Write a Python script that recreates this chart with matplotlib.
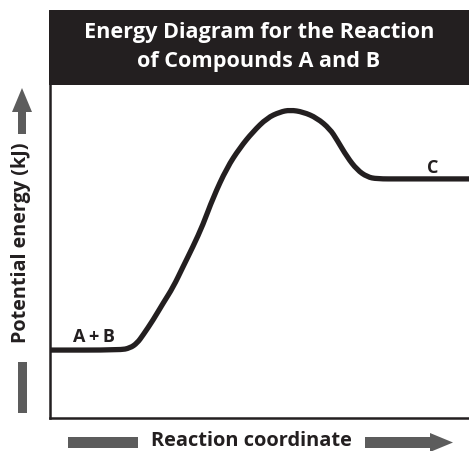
import matplotlib
matplotlib.use("Agg")
import matplotlib.pyplot as plt
from matplotlib.patches import FancyArrow, Rectangle, PathPatch
from matplotlib.path import Path

plt.rcParams['font.family'] = ['Open Sans', 'DejaVu Sans']

# reaction path read along the coordinate axis (0-100, arbitrary units)
reaction_x = [0, 16.7, 19.1, 20.8, 22.2, 24.6, 27.0, 29.4, 31.7, 34.1, 36.5,
              38.9, 42.2, 45.3, 48.4, 51.8, 54.9, 57.3, 60.4, 63.7, 66.8,
              68.5, 70.9, 73.3, 75.7, 78.0, 83.5, 100]
energy = [20.4, 20.4, 21.0, 22.5, 24.9, 29.4, 34.5, 39.3, 45.3, 51.4, 58.0,
          66.1, 75.1, 81.1, 85.9, 90.1, 91.9, 92.5, 91.9, 90.1, 86.8,
          83.5, 78.4, 74.5, 72.4, 71.8, 71.8, 71.8]

species = ["A\u2009+\u2009B", "C"]
species_x = [10.5, 91.4]
species_y = [24.3, 75.0]

title_lines = ["Energy Diagram for the Reaction", "of Compounds A and B"]
x_label = "Reaction coordinate"
y_label = "Potential energy (kJ)"

W, H = 469, 451
dark = "#231f20"
gray = "#5c5c5c"


def smooth_path(xs, ys):
    # quadratic curve through segment midpoints, the points act as controls
    pts = list(zip(xs, ys))
    mid = lambda a, b: ((a[0] + b[0]) / 2, (a[1] + b[1]) / 2)
    verts = [pts[0], mid(pts[0], pts[1])]
    codes = [Path.MOVETO, Path.LINETO]
    for i in range(1, len(pts) - 1):
        verts += [pts[i], mid(pts[i], pts[i + 1])]
        codes += [Path.CURVE3, Path.CURVE3]
    verts.append(pts[-1])
    codes.append(Path.LINETO)
    return Path(verts, codes)


fig = plt.figure(figsize=(W / 100, H / 100), dpi=100)

# main plot
ax = fig.add_axes([50 / W, 33 / H, 419 / W, 333 / H])
ax.add_patch(PathPatch(smooth_path(reaction_x, energy), fill=False,
                       edgecolor=dark, lw=3.8, capstyle="butt",
                       joinstyle="round"))
for name, sx, sy in zip(species, species_x, species_y):
    ax.text(sx, sy, name, ha="center", va="center", fontsize=13,
            fontweight="bold", color=dark)
ax.set_xlim(0, 100)
ax.set_ylim(0, 100)
ax.set_xticks([])
ax.set_yticks([])
for side in ["top", "right"]:
    ax.spines[side].set_visible(False)
for side in ["left", "bottom"]:
    ax.spines[side].set_linewidth(1.8)
    ax.spines[side].set_color(dark)

# title bar
tax = fig.add_axes([49 / W, 1 - 85 / H, 420 / W, 75 / H])
tax.set_xlim(0, 1)
tax.set_ylim(0, 1)
tax.axis("off")
tax.add_patch(Rectangle((0, 0), 1, 1, color=dark, transform=tax.transAxes))
tax.text(0.5, 0.70, title_lines[0], ha="center", va="center", color="white",
         fontsize=15.6, fontweight="bold")
tax.text(0.5, 0.31, title_lines[1], ha="center", va="center", color="white",
         fontsize=15.6, fontweight="bold")

# axis labels with arrows, in pixel space
oax = fig.add_axes([0, 0, 1, 1], zorder=-1)
oax.set_xlim(0, W)
oax.set_ylim(H, 0)
oax.axis("off")

# y: arrow up, label, bar
oax.add_patch(FancyArrow(22, 134, 0, -46, width=8, head_width=20,
                         head_length=24, length_includes_head=True,
                         color=gray, lw=0))
oax.text(21, 243, y_label, rotation=90, ha="center", va="center",
         fontsize=14.2, fontweight="bold", color=dark)
oax.add_patch(Rectangle((17.5, 362), 9, 51, color=gray, lw=0))

# x: bar, label, arrow right
oax.add_patch(Rectangle((68, 437), 70, 11, color=gray, lw=0))
oax.text(251, 441, x_label, ha="center", va="center",
         fontsize=14.4, fontweight="bold", color=dark)
oax.add_patch(FancyArrow(365, 442.5, 88, 0, width=11, head_width=19,
                         head_length=23, length_includes_head=True,
                         color=gray, lw=0))

fig.savefig("out.png", dpi=100)
